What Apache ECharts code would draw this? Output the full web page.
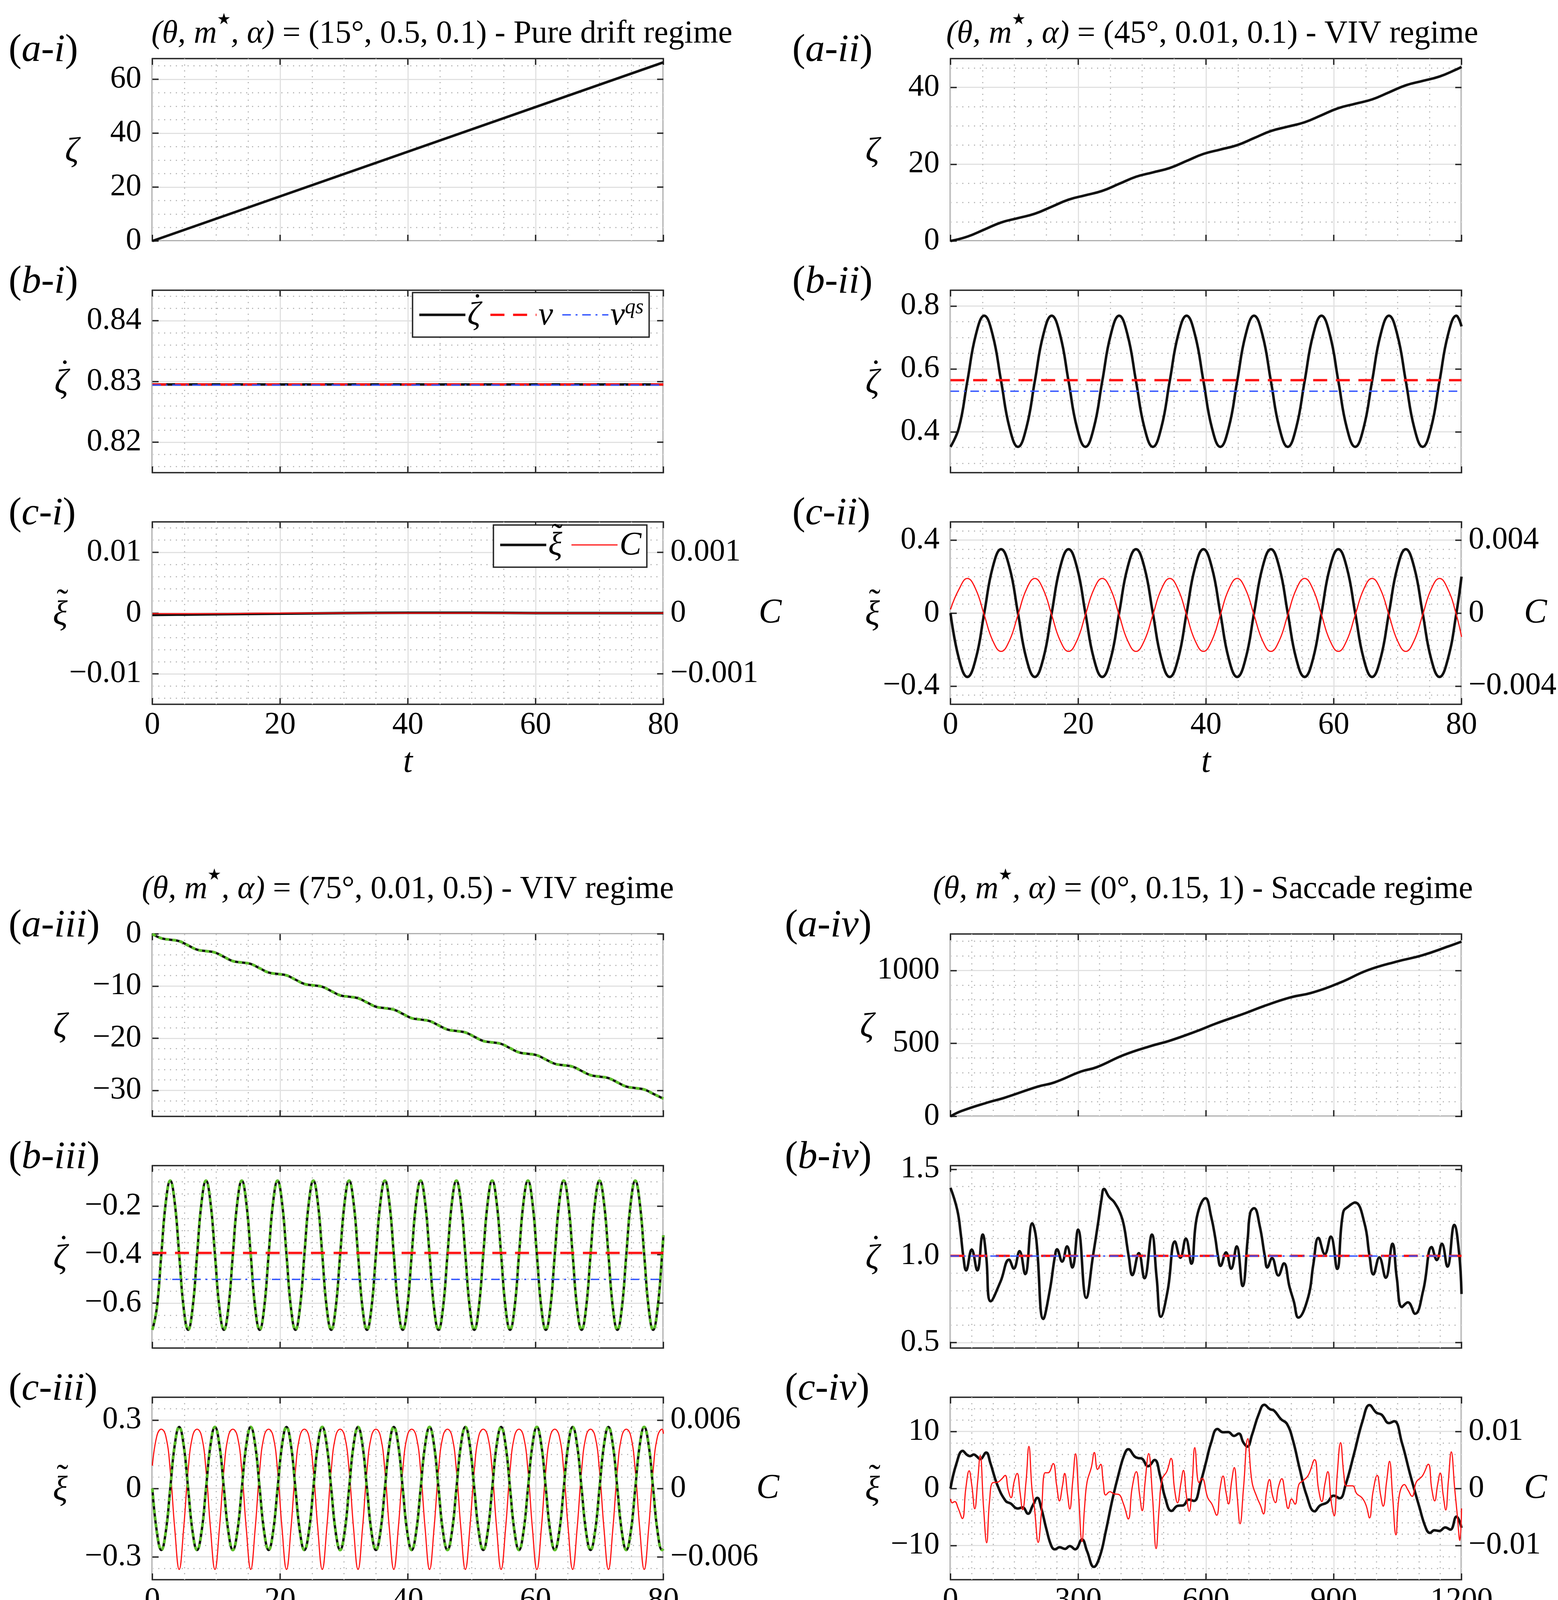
<!DOCTYPE html>
<html>
<head>
<meta charset="utf-8">
<title>Drift, VIV and saccade regimes</title>
<script src="https://cdn.jsdelivr.net/npm/echarts@6/dist/echarts.min.js"></script>
<style>
  html, body { margin: 0; padding: 0; background: #fff; overflow: hidden; }
  #chart { width: 3988px; height: 4252px; }
</style>
</head>
<body>
<div id="chart"></div>
<script>
// tick labels
var tTicks = [0, 20, 40, 60, 80];
var tTicksIV = [0, 300, 600, 900, 1200];
var ticksA1 = [0, 20, 40, 60];
var ticksB1 = [0.82, 0.83, 0.84];
var ticksC1 = [-0.01, 0, 0.01];
var ticksC1r = [-0.001, 0, 0.001];
var ticksA2 = [0, 20, 40];
var ticksB2 = [0.4, 0.6, 0.8];
var ticksC2 = [-0.4, 0, 0.4];
var ticksC2r = [-0.004, 0, 0.004];
var ticksA3 = [-30, -20, -10, 0];
var ticksB3 = [-0.6, -0.4, -0.2];
var ticksC3 = [-0.3, 0, 0.3];
var ticksC3r = [-0.006, 0, 0.006];
var ticksA4 = [0, 500, 1000];
var ticksB4 = [0.5, 1.0, 1.5];
var ticksC4 = [-10, 0, 10];
var ticksC4r = [-0.01, 0, 0.01];

// (i) pure drift
var tA1 = [0, 80];
var zetaA1 = [0, 66.3];
var tB1 = [0, 80];
var zdotB1 = [0.8295, 0.8295];
var vB1 = [0.8295, 0.8295];
var vqsB1 = [0.8294, 0.8294];
var tC1 = [0, 5, 10, 20, 30, 40, 50, 60, 70, 80];
var xiC1 = [-0.0003, -0.00025, -0.0002, -0.0001, 0, 0.00005, 0.00005, 0, 0, 0];
var cC1 = [-0.00001, -0.00001, -0.00001, 0, 0, 0, 0, 0, 0, 0];

// (ii) VIV, theta = 45
var tA2 = [0, 2.64, 5.28, 7.92, 10.56, 13.2, 15.84, 18.48, 21.12, 23.76, 26.4, 29.04, 31.68, 34.32, 36.96, 39.6,
  42.24, 44.88, 47.52, 50.16, 52.8, 55.44, 58.08, 60.72, 63.36, 66, 68.64, 71.28, 73.92, 76.56, 79.2, 80];
var zetaA2 = [0, 1.14, 2.98, 4.82, 5.96, 7.1, 8.93, 10.77, 11.91, 13.05, 14.89, 16.73, 17.87, 19.01, 20.85, 22.68,
  23.82, 24.96, 26.8, 28.64, 29.78, 30.92, 32.76, 34.6, 35.74, 36.87, 38.71, 40.55, 41.69, 42.83, 44.67, 45.32];
var t2 = [0, 1.32, 2.64, 3.96, 5.28, 6.6, 7.92, 9.24,
  10.56, 11.88, 13.2, 14.52, 15.84, 17.16, 18.48, 19.8,
  21.12, 22.44, 23.76, 25.08, 26.4, 27.72, 29.04, 30.36,
  31.68, 33, 34.32, 35.64, 36.96, 38.28, 39.6, 40.92,
  42.24, 43.56, 44.88, 46.2, 47.52, 48.84, 50.16, 51.48,
  52.8, 54.12, 55.44, 56.76, 58.08, 59.4, 60.72, 62.04,
  63.36, 64.68, 66, 67.32, 68.64, 69.96, 71.28, 72.6,
  73.92, 75.24, 76.56, 77.88, 79.2, 80];
var zdotB2 = [0.352, 0.413, 0.561, 0.708, 0.769, 0.708, 0.561, 0.413,
  0.352, 0.413, 0.561, 0.708, 0.769, 0.708, 0.561, 0.413,
  0.352, 0.413, 0.561, 0.708, 0.769, 0.708, 0.561, 0.413,
  0.352, 0.413, 0.561, 0.708, 0.769, 0.708, 0.561, 0.413,
  0.352, 0.413, 0.561, 0.708, 0.769, 0.708, 0.561, 0.413,
  0.352, 0.413, 0.561, 0.708, 0.769, 0.708, 0.561, 0.413,
  0.352, 0.413, 0.561, 0.708, 0.769, 0.708, 0.561, 0.413,
  0.352, 0.413, 0.561, 0.708, 0.769, 0.735];
var tB2 = [0, 80];
var vB2 = [0.564, 0.564];
var vqsB2 = [0.529, 0.529];
var xiC2 = [0, -0.25, -0.35, -0.25, 0, 0.25, 0.35, 0.25,
  0, -0.25, -0.35, -0.25, 0, 0.25, 0.35, 0.25,
  0, -0.25, -0.35, -0.25, 0, 0.25, 0.35, 0.25,
  0, -0.25, -0.35, -0.25, 0, 0.25, 0.35, 0.25,
  0, -0.25, -0.35, -0.25, 0, 0.25, 0.35, 0.25,
  0, -0.25, -0.35, -0.25, 0, 0.25, 0.35, 0.25,
  0, -0.25, -0.35, -0.25, 0, 0.25, 0.35, 0.25,
  0, -0.25, -0.35, -0.25, 0, 0.2];
var cC2 = [0.0002, 0.0013, 0.0019, 0.0013, -0.0001, -0.0015, -0.0021, -0.0015,
  -0.0001, 0.0013, 0.0019, 0.0013, -0.0001, -0.0015, -0.0021, -0.0015,
  -0.0001, 0.0013, 0.0019, 0.0013, -0.0001, -0.0015, -0.0021, -0.0015,
  -0.0001, 0.0013, 0.0019, 0.0013, -0.0001, -0.0015, -0.0021, -0.0015,
  -0.0001, 0.0013, 0.0019, 0.0013, -0.0001, -0.0015, -0.0021, -0.0015,
  -0.0001, 0.0013, 0.0019, 0.0013, -0.0001, -0.0015, -0.0021, -0.0015,
  -0.0001, 0.0013, 0.0019, 0.0013, -0.0001, -0.0015, -0.0021, -0.0015,
  -0.0001, 0.0013, 0.0019, 0.0013, -0.0001, -0.0013];

// (iii) VIV, theta = 75
var tA3 = [0, 1.4, 2.8, 4.2, 5.6, 7, 8.4, 9.8, 11.2, 12.6, 14, 15.4, 16.8, 18.2, 19.6, 21, 22.4, 23.8, 25.2, 26.6,
  28, 29.4, 30.8, 32.2, 33.6, 35, 36.4, 37.8, 39.2, 40.6, 42, 43.4, 44.8, 46.2, 47.6, 49, 50.4, 51.8, 53.2, 54.6,
  56, 57.4, 58.8, 60.2, 61.6, 63, 64.4, 65.8, 67.2, 68.6, 70, 71.4, 72.8, 74.2, 75.6, 77, 78.4, 79.8, 80];
var zetaA3 = [0, -0.82, -1.1, -1.37, -2.19, -3.01, -3.28, -3.56, -4.38, -5.2, -5.47, -5.75, -6.57, -7.39, -7.66,
  -7.94, -8.76, -9.58, -9.85, -10.13, -10.95, -11.77, -12.04, -12.32, -13.14, -13.96, -14.23, -14.51, -15.33,
  -16.15, -16.42, -16.7, -17.52, -18.33, -18.61, -18.89, -19.71, -20.52, -20.8, -21.08, -21.9, -22.71, -22.99,
  -23.27, -24.09, -24.9, -25.18, -25.46, -26.28, -27.09, -27.37, -27.65, -28.47, -29.28, -29.56, -29.84, -30.65,
  -31.47, -31.55];
var t3 = [0, 0.7, 1.4, 2.1, 2.8, 3.5, 4.2, 4.9,
  5.6, 6.3, 7, 7.7, 8.4, 9.1, 9.8, 10.5,
  11.2, 11.9, 12.6, 13.3, 14, 14.7, 15.4, 16.1,
  16.8, 17.5, 18.2, 18.9, 19.6, 20.3, 21, 21.7,
  22.4, 23.1, 23.8, 24.5, 25.2, 25.9, 26.6, 27.3,
  28, 28.7, 29.4, 30.1, 30.8, 31.5, 32.2, 32.9,
  33.6, 34.3, 35, 35.7, 36.4, 37.1, 37.8, 38.5,
  39.2, 39.9, 40.6, 41.3, 42, 42.7, 43.4, 44.1,
  44.8, 45.5, 46.2, 46.9, 47.6, 48.3, 49, 49.7,
  50.4, 51.1, 51.8, 52.5, 53.2, 53.9, 54.6, 55.3,
  56, 56.7, 57.4, 58.1, 58.8, 59.5, 60.2, 60.9,
  61.6, 62.3, 63, 63.7, 64.4, 65.1, 65.8, 66.5,
  67.2, 67.9, 68.6, 69.3, 70, 70.7, 71.4, 72.1,
  72.8, 73.5, 74.2, 74.9, 75.6, 76.3, 77, 77.7,
  78.4, 79.1, 79.8, 80];
var zdotB3 = [-0.71, -0.62, -0.4, -0.185, -0.095, -0.185, -0.4, -0.62,
  -0.71, -0.62, -0.4, -0.185, -0.095, -0.185, -0.4, -0.62,
  -0.71, -0.62, -0.4, -0.185, -0.095, -0.185, -0.4, -0.62,
  -0.71, -0.62, -0.4, -0.185, -0.095, -0.185, -0.4, -0.62,
  -0.71, -0.62, -0.4, -0.185, -0.095, -0.185, -0.4, -0.62,
  -0.71, -0.62, -0.4, -0.185, -0.095, -0.185, -0.4, -0.62,
  -0.71, -0.62, -0.4, -0.185, -0.095, -0.185, -0.4, -0.62,
  -0.71, -0.62, -0.4, -0.185, -0.095, -0.185, -0.4, -0.62,
  -0.71, -0.62, -0.4, -0.185, -0.095, -0.185, -0.4, -0.62,
  -0.71, -0.62, -0.4, -0.185, -0.095, -0.185, -0.4, -0.62,
  -0.71, -0.62, -0.4, -0.185, -0.095, -0.185, -0.4, -0.62,
  -0.71, -0.62, -0.4, -0.185, -0.095, -0.185, -0.4, -0.62,
  -0.71, -0.62, -0.4, -0.185, -0.095, -0.185, -0.4, -0.62,
  -0.71, -0.62, -0.4, -0.185, -0.095, -0.185, -0.4, -0.62,
  -0.71, -0.62, -0.4, -0.32];
var tB3 = [0, 80];
var vB3 = [-0.393, -0.393];
var vqsB3 = [-0.502, -0.502];
var xiC3 = [0, -0.19, -0.27, -0.19, 0, 0.19, 0.27, 0.19,
  0, -0.19, -0.27, -0.19, 0, 0.19, 0.27, 0.19,
  0, -0.19, -0.27, -0.19, 0, 0.19, 0.27, 0.19,
  0, -0.19, -0.27, -0.19, 0, 0.19, 0.27, 0.19,
  0, -0.19, -0.27, -0.19, 0, 0.19, 0.27, 0.19,
  0, -0.19, -0.27, -0.19, 0, 0.19, 0.27, 0.19,
  0, -0.19, -0.27, -0.19, 0, 0.19, 0.27, 0.19,
  0, -0.19, -0.27, -0.19, 0, 0.19, 0.27, 0.19,
  0, -0.19, -0.27, -0.19, 0, 0.19, 0.27, 0.19,
  0, -0.19, -0.27, -0.19, 0, 0.19, 0.27, 0.19,
  0, -0.19, -0.27, -0.19, 0, 0.19, 0.27, 0.19,
  0, -0.19, -0.27, -0.19, 0, 0.19, 0.27, 0.19,
  0, -0.19, -0.27, -0.19, 0, 0.19, 0.27, 0.19,
  0, -0.19, -0.27, -0.19, 0, 0.19, 0.27, 0.19,
  0, -0.19, -0.27, -0.265];
var cC3 = [0.002, 0.0046, 0.0052, 0.0046, 0.0016, -0.0035, -0.0071, -0.0035,
  0.0016, 0.0046, 0.0052, 0.0046, 0.0016, -0.0035, -0.0071, -0.0035,
  0.0016, 0.0046, 0.0052, 0.0046, 0.0016, -0.0035, -0.0071, -0.0035,
  0.0016, 0.0046, 0.0052, 0.0046, 0.0016, -0.0035, -0.0071, -0.0035,
  0.0016, 0.0046, 0.0052, 0.0046, 0.0016, -0.0035, -0.0071, -0.0035,
  0.0016, 0.0046, 0.0052, 0.0046, 0.0016, -0.0035, -0.0071, -0.0035,
  0.0016, 0.0046, 0.0052, 0.0046, 0.0016, -0.0035, -0.0071, -0.0035,
  0.0016, 0.0046, 0.0052, 0.0046, 0.0016, -0.0035, -0.0071, -0.0035,
  0.0016, 0.0046, 0.0052, 0.0046, 0.0016, -0.0035, -0.0071, -0.0035,
  0.0016, 0.0046, 0.0052, 0.0046, 0.0016, -0.0035, -0.0071, -0.0035,
  0.0016, 0.0046, 0.0052, 0.0046, 0.0016, -0.0035, -0.0071, -0.0035,
  0.0016, 0.0046, 0.0052, 0.0046, 0.0016, -0.0035, -0.0071, -0.0035,
  0.0016, 0.0046, 0.0052, 0.0046, 0.0016, -0.0035, -0.0071, -0.0035,
  0.0016, 0.0046, 0.0052, 0.0046, 0.0016, -0.0035, -0.0071, -0.0035,
  0.0016, 0.0046, 0.0052, 0.0048];

// (iv) saccade
var tA4 = [0, 25, 89, 126, 206, 243, 306, 343, 407, 471, 513, 577, 624, 693, 736, 799, 847, 916, 979, 1048, 1107, 1170, 1200];
var zetaA4 = [0, 36, 97, 127, 205, 232, 307, 337, 421, 483, 517, 583, 637, 708, 756, 816, 846, 918, 1001, 1061, 1103, 1166, 1198];
var tB4 = [0, 15.9, 23.9, 29.9, 36.7, 49.8, 62.9, 75.7, 83.7, 94.4, 117.5, 137.4, 148.6, 162.1, 175.3, 192, 201.2,
  217.9, 233.1, 245, 250.2, 262.1, 273.7, 286.1, 299.6, 318.7, 334.6, 346.6, 354.6, 360.5, 372.5, 384.5, 400.4,
  408.4, 414.4, 418.3, 427.1, 442.2, 455.4, 472.9, 484.1, 494, 510, 527.1, 539.9, 552.6, 565.7, 578.9, 599, 612,
  622, 628, 634, 647, 659, 672, 686, 698, 704, 713, 726, 738, 744, 755, 770, 783, 796, 806, 817, 840, 852, 864,
  879, 893, 908, 922, 936, 950, 972, 984, 993, 1007, 1022, 1038, 1048, 1060, 1074, 1091, 1110, 1130, 1142, 1154,
  1167, 1183, 1194, 1200];
var zdotB4 = [1.393, 1.265, 1.13, 1.0, 0.916, 1.036, 0.916, 1.123, 1.0, 0.738, 0.852, 0.978, 0.927, 1.027, 0.895,
  1.188, 1.1, 0.636, 0.8, 0.995, 1.038, 0.967, 1.055, 0.933, 1.151, 0.758, 1.0, 1.19, 1.326, 1.386, 1.34, 1.31,
  1.235, 1.16, 1.062, 1.0, 0.889, 1.016, 0.871, 1.123, 0.874, 0.649, 0.8, 1.083, 0.989, 1.1, 0.955, 1.228, 1.333,
  1.228, 1.1, 1.0, 0.942, 1.02, 0.926, 1.055, 0.826, 1.1, 1.25, 1.275, 1.175, 1.0, 0.933, 0.987, 0.887, 0.957,
  0.822, 0.739, 0.644, 0.762, 0.95, 1.104, 1.01, 1.111, 0.925, 1.25, 1.288, 1.308, 1.19, 1.0, 0.893, 0.991, 0.874,
  1.07, 0.874, 0.705, 0.732, 0.666, 0.8, 1.051, 0.976, 1.07, 0.938, 1.179, 1.025, 0.78];
var tB4h = [0, 1200];
var vB4 = [1.0, 1.0];
var vqsB4 = [0.999, 0.999];
var tC4 = [0, 13.9, 28.7, 37.8, 45.8, 54.6, 61.8, 69.7, 83.7, 93.6, 109.6, 129.5, 141.4, 157.4, 169.3, 182.1, 193.2,
  204, 213.1, 225.1, 237, 245, 256.2, 268.9, 280.1, 292.8, 308.8, 320.7, 336.6, 350.6, 364.5, 380.5, 396.4, 408.4,
  417.5, 432.3, 440.3, 448.2, 464.1, 479.3, 492, 504, 519.1, 533.9, 545.8, 559.8, 571.7, 587.6, 600, 612, 627, 640,
  652, 666, 677, 688, 697, 708, 724, 737, 750, 760, 776, 790, 804, 820, 836, 855, 868, 884, 900, 914, 928, 948, 968,
  984, 1000, 1012, 1030, 1042, 1060, 1080, 1100, 1116, 1126, 1136, 1148, 1162, 1174, 1188, 1200];
var xiC4 = [0, 4.36, 6.6, 5.96, 5.67, 5.96, 5.62, 5.16, 6.31, 4.47, 0.69, -2.18, -2.64, -3.51, -3.33, -4.43, -2.98,
  -1.65, -3.44, -7.11, -10.1, -10.67, -10.32, -10.6, -10.1, -10.67, -8.94, -11.0, -13.76, -11.93, -7.57, -1.83,
  2.98, 5.96, 6.88, 5.62, 5.34, 5.28, 3.9, 5.0, 2.29, -1.6, -3.94, -3.03, -2.98, -1.95, -2.18, 1.15, 4.6, 8.03,
  10.44, 9.86, 9.91, 9.22, 9.63, 8.03, 7.34, 9.4, 13.07, 14.68, 13.92, 13.65, 12.16, 11.35, 8.49, 3.44, -1.15,
  -4.01, -2.98, -2.48, -1.26, -1.72, 0.69, 6.19, 11.93, 14.63, 13.3, 12.96, 11.47, 11.81, 8.03, 2.29, -2.98,
  -6.88, -7.8, -7.34, -7.45, -6.83, -7.22, -4.93, -6.9];
var tC4c = [0, 4, 10, 17.9, 27.9, 35.9, 43.8, 49.8, 57, 63.7,
  69.7, 77.7, 84.9, 91.6, 99.6, 109.6, 119.5, 128.3, 135.4, 142.2,
  149.4, 156.5, 163.3, 169.3, 177.3, 184.1, 191.2, 197.2, 206, 213.1,
  222.3, 229.1, 241, 249, 255.8, 262.9, 268.1, 274.9, 280.1, 286.9,
  293.6, 300.8, 308.8, 314.7, 320.7, 330.7, 337.8, 345.4, 352.6, 358.6,
  364.5, 374.5, 384.5, 394.4, 406.4, 417.5, 426.3, 436.3, 444.2, 450.2,
  457, 465.3, 474.1, 482.9, 490, 496.8, 508, 517.9, 525.9, 533.1,
  540.6, 547, 553.8, 560.6, 567.7, 573.7, 583.6, 590.8, 604, 614,
  625, 633, 640, 647, 653, 660, 666.4, 673, 680, 688,
  698, 708, 720, 728, 735, 742, 749, 756, 763, 770,
  778, 786, 793, 801, 809, 818, 828, 840, 855, 864,
  872, 879, 886, 894, 901, 908, 916, 924, 930, 944,
  954, 966, 976, 984, 992, 1002, 1010, 1016, 1024, 1031,
  1038, 1046, 1054, 1066, 1074, 1084, 1094, 1108, 1122, 1130,
  1137, 1144, 1150, 1157, 1163, 1169, 1176, 1184, 1190, 1196,
  1200];
var cC4 = [-0.00183, -0.00252, -0.00229, -0.00344, -0.00528, 0, 0.0031, 0.00069, -0.00356, 0.00115,
  0.00578, -0.00344, -0.00952, -0.00229, 0.00103, 0.00108, 0.00161, 0.00229, -0.00023, -0.00161,
  0.00115, 0.00264, -0.00069, -0.00372, 0.00115, 0.00739, 0, -0.00344, -0.00947, -0.00459,
  0.00275, 0.00275, 0.00436, 0.00069, -0.00218, 0.00046, 0.00264, -0.00115, -0.0036, 0.00115,
  0.00608, -0.00115, -0.00929, -0.00344, 0.00115, 0.00367, 0.00631, 0.00333, 0.00424, 0.00115,
  -0.00115, -0.00057, -0.00096, -0.00103, -0.00275, -0.00534, 0, 0.00294, -0.00115, -0.0039,
  0.00115, 0.00612, -0.00115, -0.01055, -0.00344, 0.00161, 0.00298, 0.00528, 0, -0.00252,
  0.00069, 0.00317, -0.00115, -0.00401, 0.00115, 0.00716, 0.00103, 0.00179, -0.00161, -0.00275,
  -0.0047, 0, 0.00218, -0.00069, -0.00271, 0.00115, 0.00367, -0.00115, -0.00619, 0,
  0.00872, 0.00115, -0.00161, -0.00298, -0.00447, -0.00069, 0.00156, -0.00115, -0.00248, 0.00023,
  0.00172, -0.00115, -0.00351, -0.00183, -0.00275, 0.00069, 0.00138, 0.00229, 0.00505, 0,
  -0.00229, 0.00069, 0.00294, -0.00229, -0.00482, 0.00229, 0.00803, 0.00229, 0.00046, 0.00046,
  -0.00092, -0.00161, -0.00298, -0.00516, -0.00069, 0.00229, -0.00115, -0.0031, 0.00115, 0.00477,
  -0.00115, -0.00814, -0.00115, 0.00069, -0.00023, -0.00138, 0.00115, 0.00218, 0.00424, 0,
  -0.00218, 0.00069, 0.00271, -0.00115, -0.00378, 0.00115, 0.00642, 0, -0.00459, -0.00913,
  -0.0035];

var FONT = 'Liberation Serif';
var INK = '#262626';
var GRID_MAJOR = '#e1e1e1';
var GRID_MINOR = '#bababa';
var BLACK = '#111111', RED = '#ff1414', BLUE = '#3355ff', GREEN = '#5cbf2a';
var DASH = [36, 22], DASHDOT = [22, 12, 5, 12], DOTS = [10, 8];

var ZETA = '\u03B6', XI = '\u03BE';
var DOT = '\u02D9', TILDE = '\u02DC';

var colX = [390, 2433];
var rowY = [150, 743, 1336, 2391, 2984, 3577];
var PW = 1308, PH = 467;

// panel layout: slot, axis ranges, label offsets
var panels = [
  {col: 0, row: 0, tag: 'a-i', xr: [0, 80], xt: tTicks, xs: 5, xm: 20, yr: [0, 67.7], yt: ticksA1, ys: 5, ym: 20, dec: 0, acc: '', noff: 206},
  {col: 0, row: 1, tag: 'b-i', xr: [0, 80], xt: tTicks, xs: 5, xm: 20, yr: [0.815, 0.845], yt: ticksB1, ys: 0.002, ym: 0.01, dec: 2, acc: DOT, noff: 233},
  {col: 0, row: 2, tag: 'c-i', xr: [0, 80], xt: tTicks, xs: 5, xm: 20, yr: [-0.015, 0.015], yt: ticksC1, ys: 0.002, ym: 0.01, dec: 2, acc: TILDE, noff: 236,
    cr: [-0.0015, 0.0015], ct: ticksC1r, cdec: 3, cgap: 244},
  {col: 1, row: 0, tag: 'a-ii', xr: [0, 80], xt: tTicks, xs: 5, xm: 20, yr: [0, 47.5], yt: ticksA2, ys: 5, ym: 20, dec: 0, acc: '', noff: 200},
  {col: 1, row: 1, tag: 'b-ii', xr: [0, 80], xt: tTicks, xs: 5, xm: 20, yr: [0.27, 0.85], yt: ticksB2, ys: 0.05, ym: 0.2, dec: 1, acc: DOT, noff: 200},
  {col: 1, row: 2, tag: 'c-ii', xr: [0, 80], xt: tTicks, xs: 5, xm: 20, yr: [-0.5, 0.5], yt: ticksC2, ys: 0.05, ym: 0.4, dec: 1, acc: TILDE, noff: 200,
    cr: [-0.005, 0.005], ct: ticksC2r, cdec: 3, cgap: 160},
  {col: 0, row: 3, tag: 'a-iii', xr: [0, 80], xt: tTicks, xs: 5, xm: 20, yr: [-35, 0], yt: ticksA3, ys: 2, ym: 10, dec: 0, acc: '', noff: 236},
  {col: 0, row: 4, tag: 'b-iii', xr: [0, 80], xt: tTicks, xs: 5, xm: 20, yr: [-0.785, -0.033], yt: ticksB3, ys: 0.05, ym: 0.2, dec: 1, acc: DOT, noff: 236},
  {col: 0, row: 5, tag: 'c-iii', xr: [0, 80], xt: tTicks, xs: 5, xm: 20, yr: [-0.4, 0.4], yt: ticksC3, ys: 0.05, ym: 0.3, dec: 1, acc: TILDE, noff: 236,
    cr: [-0.008, 0.008], ct: ticksC3r, cdec: 3, cgap: 238},
  {col: 1, row: 3, tag: 'a-iv', xr: [0, 1200], xt: tTicksIV, xs: 50, xm: 300, yr: [0, 1250], yt: ticksA4, ys: 100, ym: 500, dec: 0, acc: '', noff: 214},
  {col: 1, row: 4, tag: 'b-iv', xr: [0, 1200], xt: tTicksIV, xs: 50, xm: 300, yr: [0.468, 1.521], yt: ticksB4, ys: 0.1, ym: 0.5, dec: 1, acc: DOT, noff: 200},
  {col: 1, row: 5, tag: 'c-iv', xr: [0, 1200], xt: tTicksIV, xs: 50, xm: 300, yr: [-16, 16], yt: ticksC4, ys: 2, ym: 10, dec: 0, acc: TILDE, noff: 200,
    cr: [-0.016, 0.016], ct: ticksC4r, cdec: 2, cgap: 160}
];

var titles = [
  {x: 1131, y: 80, text: '{i|(\u03B8, m}{s|\u2605}{i|, \u03B1)}{n| = (15\u00B0, 0.5, 0.1) - Pure drift regime}'},
  {x: 3103, y: 80, text: '{i|(\u03B8, m}{s|\u2605}{i|, \u03B1)}{n| = (45\u00B0, 0.01, 0.1) - VIV regime}'},
  {x: 1044, y: 2270, text: '{i|(\u03B8, m}{s|\u2605}{i|, \u03B1)}{n| = (75\u00B0, 0.01, 0.5) - VIV regime}'},
  {x: 3079, y: 2270, text: '{i|(\u03B8, m}{s|\u2605}{i|, \u03B1)}{n| = (0\u00B0, 0.15, 1) - Saccade regime}'}
];

function fmt(dec) {
  return function (v) {
    if (Math.abs(v) < 1e-12) return '0';
    return v.toFixed(dec).replace('-', '\u2212');
  };
}

// grid positions of the dotted minor lines
function minors(lo, hi, step, major) {
  var out = [];
  for (var k = Math.ceil(lo / step - 1e-9); k * step <= hi + 1e-9; k++) {
    var v = +(k * step).toFixed(6);
    var r = v / major;
    if (v <= lo || v >= hi) continue;
    if (Math.abs(r - Math.round(r)) > 1e-6) out.push(v);
  }
  return out;
}

function zip(t, v) {
  var out = [];
  for (var i = 0; i < t.length; i++) out.push([t[i], v[i]]);
  return out;
}

// italic greek letter with an optional accent on top
function symbolText(x, y, base, acc, size) {
  var els = [{
    type: 'text', silent: true, x: x, y: y, z: 100,
    style: {text: base, fontFamily: FONT, fontStyle: 'italic', fontSize: size, fill: '#000', align: 'center', verticalAlign: 'middle'}
  }];
  if (acc) {
    els.push({
      type: 'text', silent: true, x: x + (acc === DOT ? 9 : 6), y: y - (acc === DOT ? 24 : 30), z: 100,
      style: {text: acc, fontFamily: FONT, fontSize: size, fill: '#000', align: 'center', verticalAlign: 'middle'}
    });
  }
  return els;
}

var tickLine = {color: INK, width: 3.5};
var labelFont = {fontFamily: FONT, fontSize: 80, color: '#000'};
var nameFont = {fontFamily: FONT, fontStyle: 'italic', fontSize: 88, color: '#000'};

var grids = [], xAxes = [], yAxes = [], series = [], graphics = [];

panels.forEach(function (p, g) {
  var isC = p.row % 3 === 2;
  grids.push({
    left: colX[p.col], top: rowY[p.row], width: PW, height: PH,
    show: true, borderColor: INK, borderWidth: 3.5, backgroundColor: 'transparent',
    containLabel: false, outerBoundsMode: 'none'
  });

  xAxes.push({
    gridIndex: g, type: 'value', position: 'bottom', min: p.xr[0], max: p.xr[1],
    axisLine: {show: false, onZero: false},
    axisTick: {show: true, inside: true, length: 16, customValues: p.xt, lineStyle: tickLine},
    axisLabel: Object.assign({show: isC, customValues: p.xt, margin: 14, formatter: fmt(0)}, labelFont),
    splitLine: {show: true, lineStyle: {color: GRID_MAJOR, width: 3}},
    name: isC ? 't' : '', nameLocation: 'middle', nameGap: 106, nameMoveOverlap: false, nameTextStyle: nameFont
  });
  xAxes.push({
    gridIndex: g, type: 'value', position: 'top', min: p.xr[0], max: p.xr[1],
    axisLine: {show: false, onZero: false},
    axisTick: {show: true, inside: true, length: 16, customValues: p.xt, lineStyle: tickLine},
    axisLabel: {show: false}, splitLine: {show: false}
  });
  xAxes.push({
    gridIndex: g, type: 'value', position: 'bottom', min: p.xr[0], max: p.xr[1],
    axisLine: {show: false, onZero: false},
    axisTick: {show: false, customValues: minors(p.xr[0], p.xr[1], p.xs, p.xm)},
    axisLabel: {show: false},
    splitLine: {show: true, lineStyle: {color: GRID_MINOR, width: 3, type: [3, 12]}}
  });

  yAxes.push({
    gridIndex: g, type: 'value', position: 'left', min: p.yr[0], max: p.yr[1],
    axisLine: {show: false, onZero: false},
    axisTick: {show: true, inside: true, length: 16, customValues: p.yt, lineStyle: tickLine},
    axisLabel: Object.assign({customValues: p.yt, margin: 28, formatter: fmt(p.dec)}, labelFont),
    splitLine: {show: true, lineStyle: {color: GRID_MAJOR, width: 3}}
  });
  if (isC) {
    yAxes.push({
      gridIndex: g, type: 'value', position: 'right', min: p.cr[0], max: p.cr[1],
      axisLine: {show: false, onZero: false},
      axisTick: {show: true, inside: true, length: 16, customValues: p.ct, lineStyle: tickLine},
      axisLabel: Object.assign({customValues: p.ct, margin: 18, formatter: fmt(p.cdec)}, labelFont),
      splitLine: {show: false},
      name: 'C', nameLocation: 'middle', nameRotate: 0, nameGap: p.cgap, nameMoveOverlap: false,
      nameTextStyle: Object.assign({}, nameFont, {align: 'left', verticalAlign: 'middle'})
    });
  } else {
    yAxes.push({
      gridIndex: g, type: 'value', position: 'right', min: p.yr[0], max: p.yr[1],
      axisLine: {show: false, onZero: false},
      axisTick: {show: true, inside: true, length: 16, customValues: p.yt, lineStyle: tickLine},
      axisLabel: {show: false}, splitLine: {show: false}
    });
  }
  yAxes.push({
    gridIndex: g, type: 'value', position: 'left', min: p.yr[0], max: p.yr[1],
    axisLine: {show: false, onZero: false},
    axisTick: {show: false, customValues: minors(p.yr[0], p.yr[1], p.ys, p.ym)},
    axisLabel: {show: false},
    splitLine: {show: true, lineStyle: {color: GRID_MINOR, width: 3, type: [3, 12]}}
  });

  // y label: zeta, zeta-dot or xi-tilde
  var base = p.row % 3 === 2 ? XI : ZETA;
  graphics = graphics.concat(symbolText(colX[p.col] - p.noff, rowY[p.row] + PH / 2 + 6, base, p.acc, 88));

  // panel tag like (a-i)
  graphics.push({
    type: 'text', silent: true,
    x: p.col === 0 ? 22 : (p.row < 3 ? 2028 : 2009), y: rowY[p.row] - 20,
    style: {
      text: '{p|(}{i|' + p.tag + '}{p|)}', align: 'left', verticalAlign: 'middle',
      rich: {
        p: {fontFamily: FONT, fontSize: 100, fill: '#000'},
        i: {fontFamily: FONT, fontSize: 100, fontStyle: 'italic', fill: '#000'}
      }
    }
  });
});

titles.forEach(function (t) {
  graphics.push({
    type: 'text', silent: true, x: t.x, y: t.y,
    style: {
      text: t.text, align: 'center', verticalAlign: 'middle',
      rich: {
        n: {fontFamily: FONT, fontSize: 82, fill: '#000', lineHeight: 96, verticalAlign: 'bottom'},
        i: {fontFamily: FONT, fontSize: 82, fontStyle: 'italic', fill: '#000', lineHeight: 96, verticalAlign: 'bottom'},
        s: {fontFamily: 'DejaVu Sans', fontSize: 40, fill: '#000', verticalAlign: 'top', lineHeight: 96}
      }
    }
  });
});

function line(g, name, t, v, color, width, dash, right) {
  return {
    type: 'line', name: name, xAxisIndex: 3 * g, yAxisIndex: 3 * g + (right ? 1 : 0),
    data: zip(t, v), symbol: 'none', showSymbol: false, smooth: 0.45, clip: true,
    silent: true, animation: false, z: 5,
    lineStyle: {color: color, width: width, type: dash || 'solid'},
    itemStyle: {color: color}
  };
}

// (i)
series.push(line(0, 'zeta1', tA1, zetaA1, BLACK, 6.5));
series.push(line(1, 'zdot', tB1, zdotB1, BLACK, 6.5));
series.push(line(1, 'v', tB1, vB1, RED, 6, DASH));
series.push(line(1, 'vqs', tB1, vqsB1, BLUE, 3.5, DASHDOT));
series.push(line(2, 'xi', tC1, xiC1, BLACK, 6.5));
series.push(line(2, 'C', tC1, cC1, RED, 3, null, true));
// (ii)
series.push(line(3, 'zeta2', tA2, zetaA2, BLACK, 6.5));
series.push(line(4, 'zdot2', t2, zdotB2, BLACK, 6.5));
series.push(line(4, 'v2', tB2, vB2, RED, 6, DASH));
series.push(line(4, 'vqs2', tB2, vqsB2, BLUE, 3.5, DASHDOT));
series.push(line(5, 'xi2', t2, xiC2, BLACK, 6.5));
series.push(line(5, 'C2', t2, cC2, RED, 3, null, true));
// (iii), green dotted = model overlay
series.push(line(6, 'zeta3', tA3, zetaA3, BLACK, 6));
series.push(line(6, 'zeta3m', tA3, zetaA3, GREEN, 7, DOTS));
series.push(line(7, 'zdot3', t3, zdotB3, BLACK, 6));
series.push(line(7, 'zdot3m', t3, zdotB3, GREEN, 7, DOTS));
series.push(line(7, 'v3', tB3, vB3, RED, 6, DASH));
series.push(line(7, 'vqs3', tB3, vqsB3, BLUE, 3.5, DASHDOT));
series.push(line(8, 'C3', t3, cC3, RED, 3, null, true));
series.push(line(8, 'xi3', t3, xiC3, BLACK, 6));
series.push(line(8, 'xi3m', t3, xiC3, GREEN, 7, DOTS));
// (iv)
series.push(line(9, 'zeta4', tA4, zetaA4, BLACK, 6.5));
series.push(line(10, 'zdot4', tB4, zdotB4, BLACK, 6.5));
series.push(line(10, 'v4', tB4h, vB4, RED, 6, DASH));
series.push(line(10, 'vqs4', tB4h, vqsB4, BLUE, 3.5, DASHDOT));
series.push(line(11, 'xi4', tC4, xiC4, BLACK, 6.5));
series.push(line(11, 'C4', tC4c, cC4, RED, 3, null, true));

// legends: text is the bare letter, accents are drawn on top as graphics
var LEG_ICON = 118, LEG_PAD = 14, LEG_FONT = 84;
var legendRich = {
  i: {fontFamily: FONT, fontStyle: 'italic', fontSize: LEG_FONT, color: '#000', lineHeight: 90, verticalAlign: 'bottom'},
  s: {fontFamily: FONT, fontStyle: 'italic', fontSize: 54, color: '#000', lineHeight: 90, verticalAlign: 'top'}
};
var legendLabels = {zdot: ZETA, v: 'v', vqs: '{i|v}{s|qs}', xi: XI, C: 'C'};
function legendText(name) {
  var s = legendLabels[name];
  return s.charAt(0) === '{' ? s : '{i|' + s + '}';
}
function legendItem(name, color, width, dash) {
  return {name: name, itemStyle: {opacity: 0}, lineStyle: {color: color, width: width, type: dash || 'solid'}};
}
var legendBox = {
  orient: 'horizontal', itemWidth: LEG_ICON, itemHeight: 24, itemGap: 22,
  padding: [12, LEG_PAD, 12, LEG_PAD], borderColor: INK, borderWidth: 3.5, borderRadius: 0,
  backgroundColor: '#fff', selectedMode: false, formatter: legendText, z: 20,
  itemStyle: {opacity: 0},
  textStyle: {fontFamily: FONT, fontSize: LEG_FONT, color: '#000', rich: legendRich}
};
var legB = {left: 1056, top: 749};
var legC = {left: 1263, top: 1344};
graphics = graphics.concat(symbolText(legB.left + LEG_PAD + LEG_ICON + 5 + 20, legB.top + 62, '', DOT, LEG_FONT).slice(1));
graphics = graphics.concat(symbolText(legC.left + LEG_PAD + LEG_ICON + 5 + 20, legC.top + 62, '', TILDE, LEG_FONT).slice(1));

var option = {
  animation: false,
  backgroundColor: '#fff',
  textStyle: {fontFamily: FONT},
  grid: grids,
  xAxis: xAxes,
  yAxis: yAxes,
  legend: [
    Object.assign({data: [legendItem('zdot', BLACK, 6.5), legendItem('v', RED, 6, DASH), legendItem('vqs', BLUE, 3.5, DASHDOT)]}, legB, legendBox),
    Object.assign({data: [legendItem('xi', BLACK, 6.5), legendItem('C', RED, 3)]}, legC, legendBox)
  ],
  graphic: graphics,
  series: series
};

var chart = echarts.init(document.getElementById('chart'), null, {renderer: 'canvas'});
chart.setOption(option);
</script>
</body>
</html>
